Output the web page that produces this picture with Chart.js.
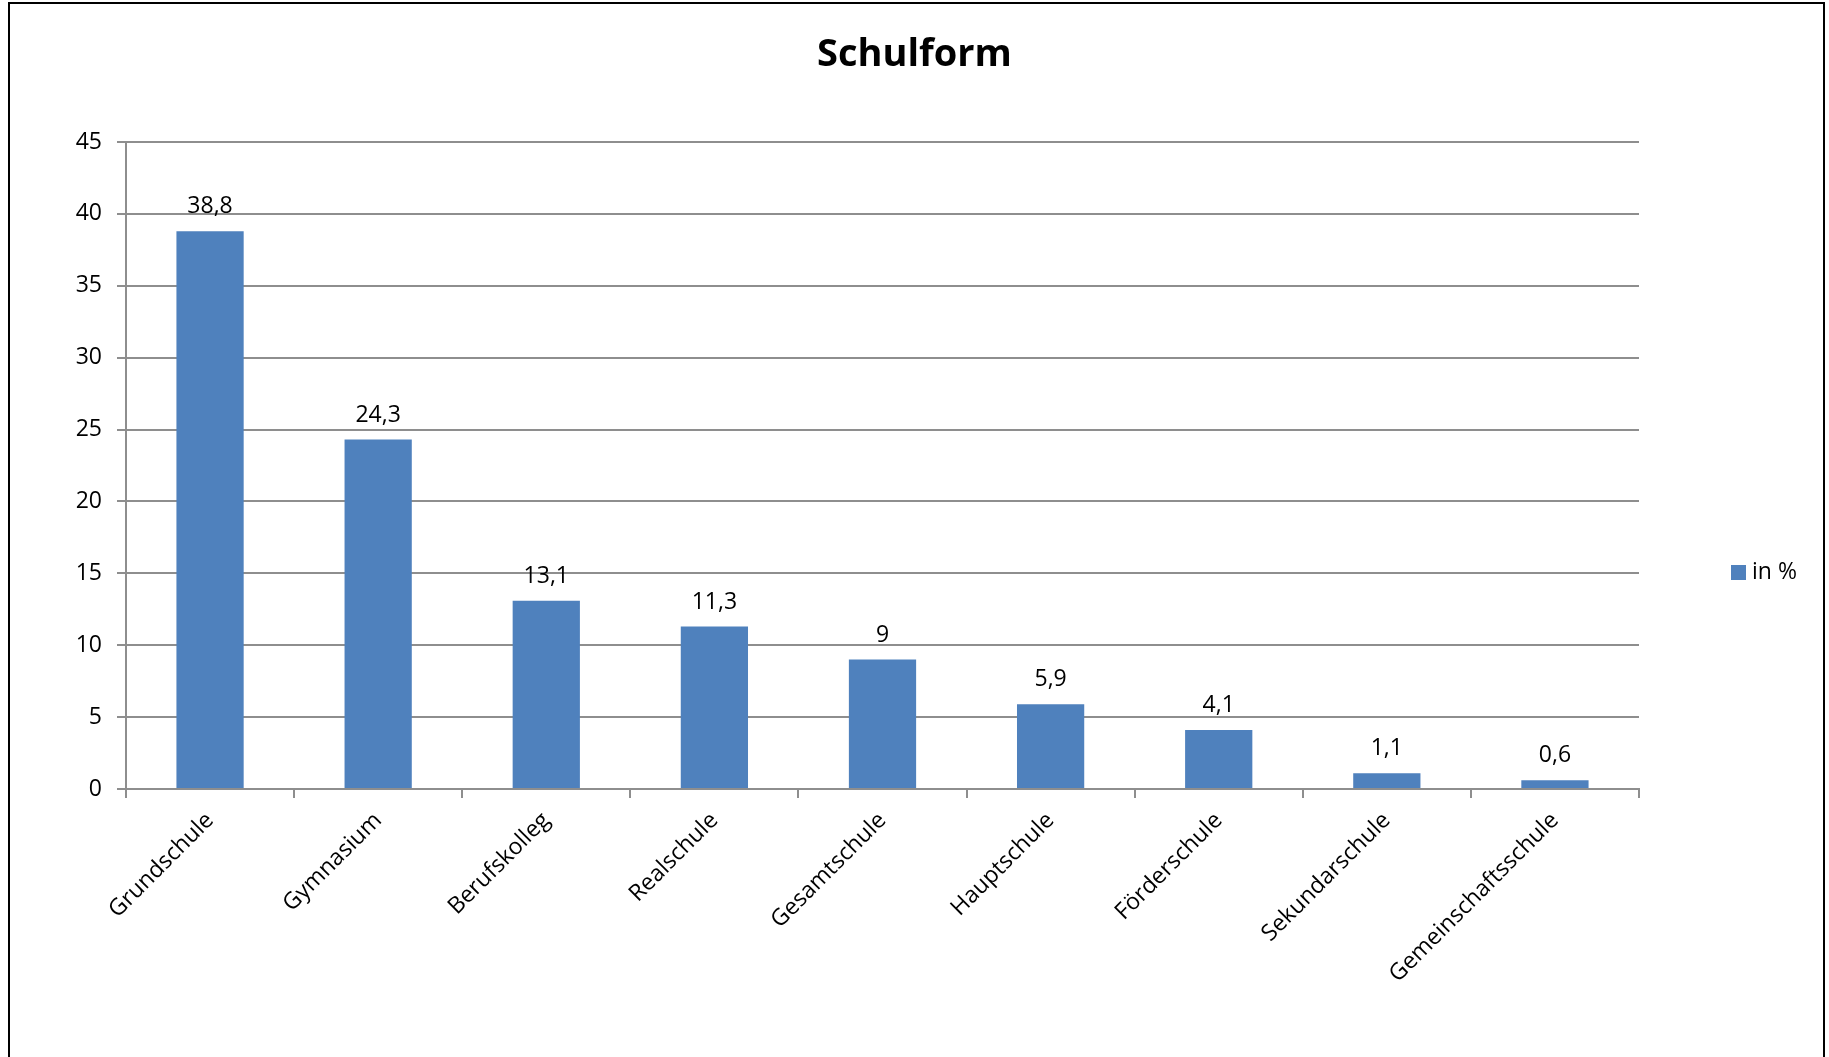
<!DOCTYPE html>
<html>
<head>
<meta charset="utf-8">
<script src="https://cdn.jsdelivr.net/npm/chart.js@4"></script>
<style>
  html, body { margin: 0; padding: 0; background: #fff; }
  #wrap { position: relative; width: 1829px; height: 1057px; overflow: hidden; }
  #frame {
    position: absolute; left: 8px; top: 2px; width: 1817px; height: 1100px;
    border: 2px solid #000; box-sizing: border-box; pointer-events: none;
  }
</style>
</head>
<body>
<div id="wrap">
  <canvas id="schulformChart" width="1829" height="1057"></canvas>
  <div id="frame"></div>
</div>
<script>
"use strict";

const schulformen = [
  "Grundschule", "Gymnasium", "Berufskolleg", "Realschule", "Gesamtschule",
  "Hauptschule", "Förderschule", "Sekundarschule", "Gemeinschaftsschule"
];
const anteile = [38.8, 24.3, 13.1, 11.3, 9, 5.9, 4.1, 1.1, 0.6];
const seriesLabel = "in %";
const titleText = "Schulform";

const fontFamily = "'Open Sans', 'Noto Sans', sans-serif";
const barColor = "#4F81BD";
const gridColor = "#8e8e8e";

const ctx = document.getElementById("schulformChart");

// value labels above each bar, decimal comma like the original
const valueLabels = {
  id: "valueLabels",
  afterDatasetsDraw(chart) {
    const c = chart.ctx;
    const meta = chart.getDatasetMeta(0);
    c.save();
    c.font = "23px " + fontFamily;
    c.fillStyle = "#000";
    c.textAlign = "center";
    c.textBaseline = "bottom";
    meta.data.forEach((bar, i) => {
      let txt = String(anteile[i]).replace(".", ",");
      c.fillText(txt, bar.x, bar.y - 13);
    });
    c.restore();
  },
};

// title is centred on the whole frame and the legend sits lower than
// chart.js would put it, so both are drawn by hand
const titleAndLegend = {
  id: "titleAndLegend",
  afterDraw(chart) {
    const c = chart.ctx;
    c.save();
    c.fillStyle = "#000";
    c.font = "bold 38px " + fontFamily;
    c.textAlign = "center";
    c.textBaseline = "middle";
    c.fillText(titleText, chart.width / 2, 55);

    c.fillStyle = barColor;
    c.fillRect(1731, 565, 15, 15);
    c.fillStyle = "#000";
    c.font = "23px " + fontFamily;
    c.textAlign = "left";
    c.fillText(seriesLabel, 1752, 572);
    c.restore();
  },
};

new Chart(ctx, {
  type: "bar",
  data: {
    labels: schulformen,
    datasets: [
      {
        label: seriesLabel,
        data: anteile,
        backgroundColor: barColor,
        barPercentage: 0.4,
        categoryPercentage: 1,
      },
    ],
  },
  options: {
    responsive: false,
    animation: false,
    layout: { padding: { left: 0, right: 190, top: 142, bottom: 0 } },
    plugins: {
      legend: { display: false },
      tooltip: { enabled: false },
      title: { display: false },
    },
    scales: {
      x: {
        grid: {
          offset: true,
          drawOnChartArea: false,
          drawTicks: true,
          tickLength: 9,
          color: gridColor,
          lineWidth: 2,
        },
        border: { color: gridColor, width: 2 },
        ticks: {
          color: "#000",
          font: { family: fontFamily, size: 23 },
          minRotation: 45,
          maxRotation: 45,
          padding: 9,
        },
        afterFit: (scale) => {
          scale.height = 1057 - 789;
        },
      },
      y: {
        min: 0,
        max: 45,
        ticks: {
          stepSize: 5,
          color: "#000",
          font: { family: fontFamily, size: 23 },
          padding: 15,
        },
        grid: {
          color: gridColor,
          lineWidth: 2,
          tickLength: 9,
        },
        border: { color: gridColor, width: 2 },
        afterFit: (scale) => {
          scale.width = 126;
        },
      },
    },
  },
  plugins: [valueLabels, titleAndLegend],
});
</script>
</body>
</html>
